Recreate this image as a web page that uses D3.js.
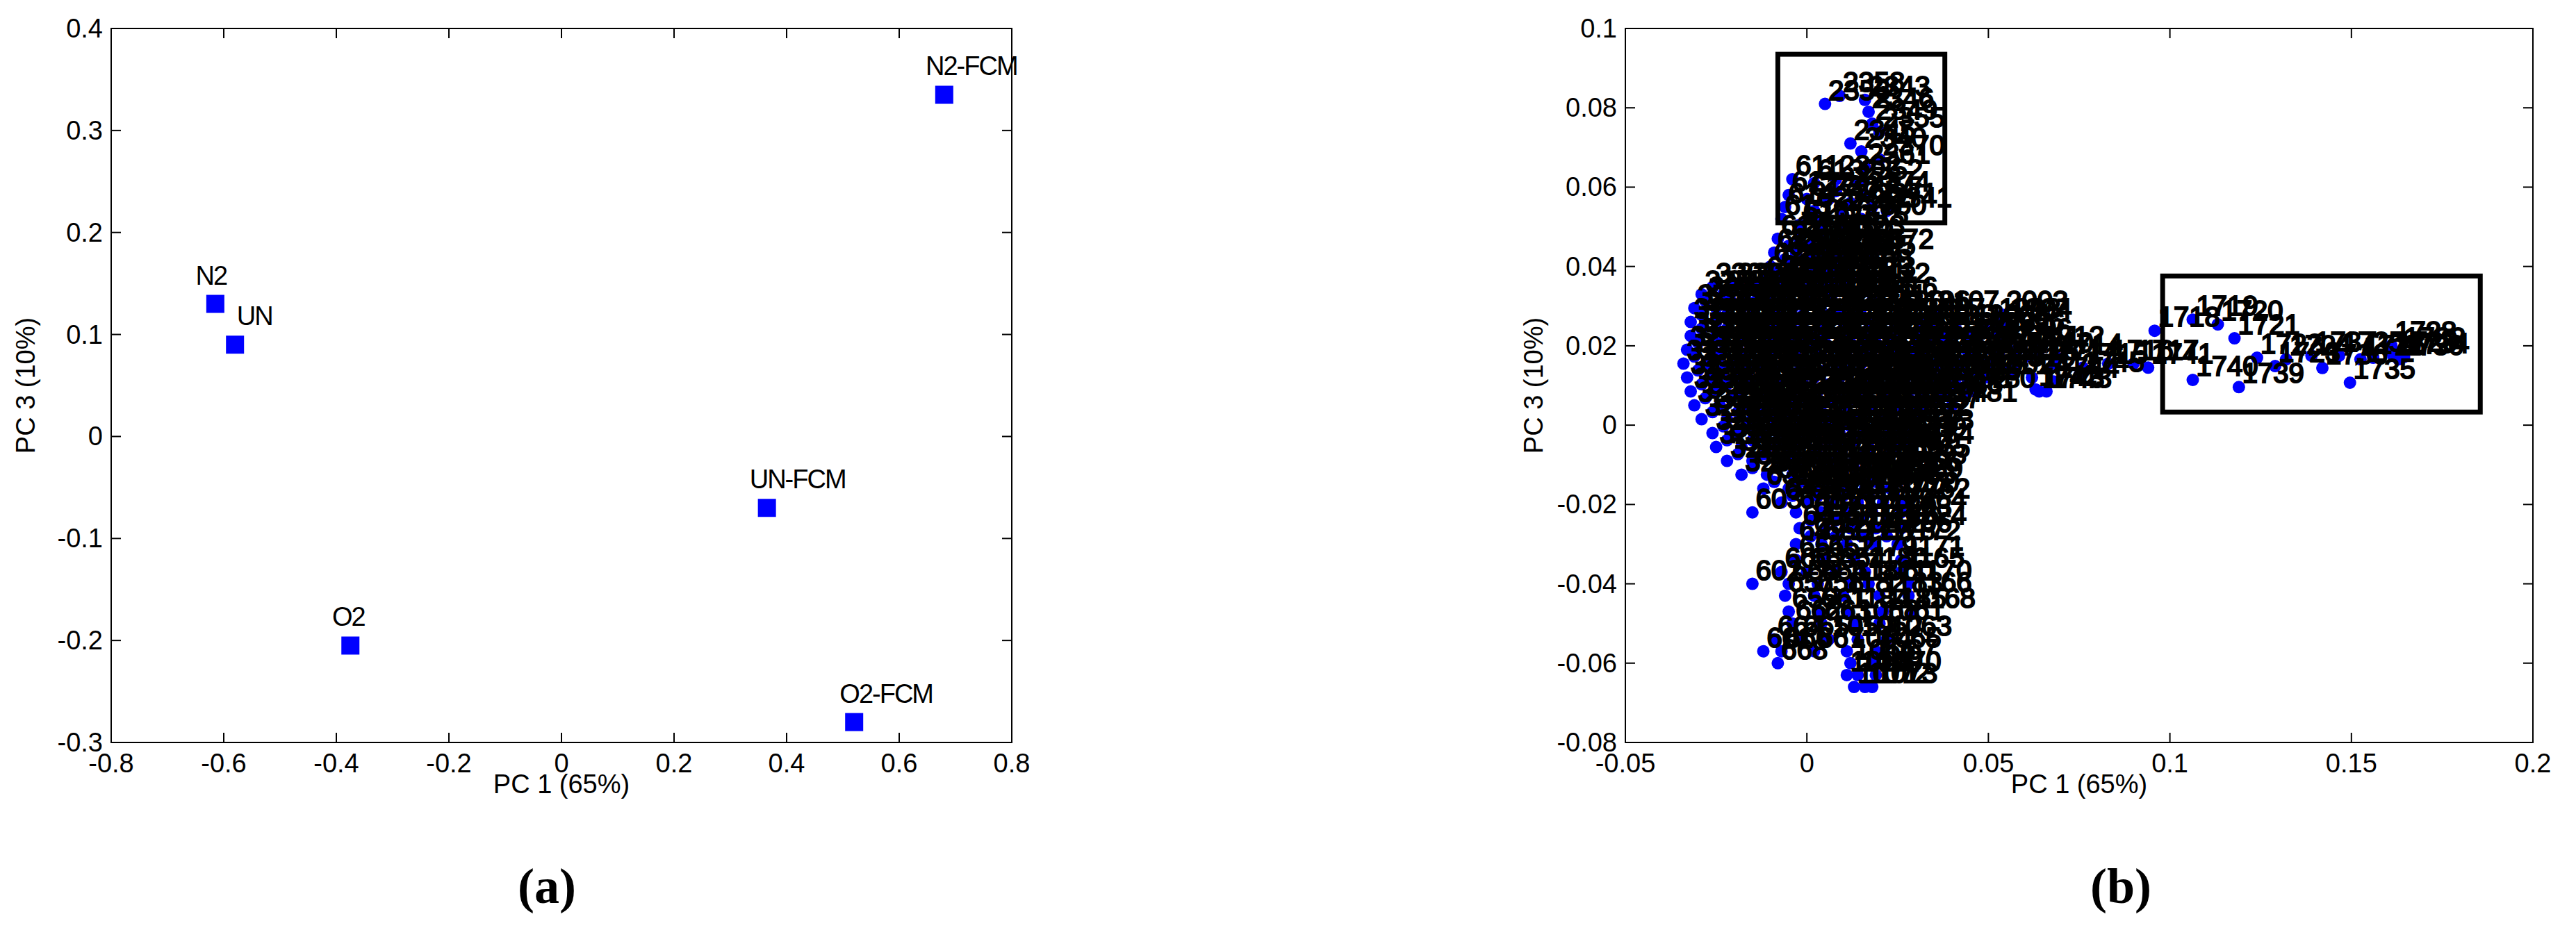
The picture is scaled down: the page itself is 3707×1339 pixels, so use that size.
<!DOCTYPE html>
<html><head><meta charset="utf-8">
<script src="https://cdn.jsdelivr.net/npm/d3@7"></script>
<style>body{margin:0;background:#fff}svg{display:block}</style>
</head><body>
<script>
// ---- Panel (a) data ----
const aNames = ["N2","UN","O2","UN-FCM","O2-FCM","N2-FCM"];
const aPC1 = [-0.615,-0.58,-0.375,0.365,0.52,0.68];
const aPC3 = [0.13,0.09,-0.205,-0.07,-0.28,0.335];
const aLabelDx = [-6,28,-3,44,46,39];
const aXTicks = [-0.8,-0.6,-0.4,-0.2,0,0.2,0.4,0.6,0.8];
const aYTicks = [-0.3,-0.2,-0.1,0,0.1,0.2,0.3,0.4];
// ---- Panel (b) data ----
const bXTicks = [-0.05,0,0.05,0.1,0.15,0.2];
const bYTicks = [-0.08,-0.06,-0.04,-0.02,0,0.02,0.04,0.06,0.08,0.1];
const bBoxes = [[-0.008,0.038,0.0935,0.051],[0.098,0.1855,0.0376,0.0033]];
const topCluster = [[0.005,0.081,"2356"],[0.009,0.083,"2358"],[0.016,0.082,"2343"],[0.017,0.079,"2346"],[0.018,0.076,"2349"],[0.02,0.074,"2355"],[0.012,0.071,"2345"],[0.015,0.069,"2340"],[0.02,0.067,"2370"],[0.016,0.065,"2361"],[-0.004,0.062,"611"],[0.002,0.061,"613"],[0.008,0.062,"2362"],[0.014,0.061,"2352"],[-0.005,0.058,"612"],[0.0,0.057,"617"],[0.006,0.057,"2363"],[0.012,0.056,"2364"],[0.018,0.055,"2371"],[0.022,0.054,"2341"],[-0.006,0.055,"614"],[0.002,0.054,"620"],[0.01,0.053,"2367"],[-0.007,0.052,"615"],[0.004,0.051,"2366"],[0.015,0.052,"2350"],[0.008,0.059,"2373"],[0.016,0.058,"2374"],[-0.002,0.0505,"616"],[0.01,0.0495,"2375"]];
const blobRows = [
 [0.047,[-0.008,-0.002,0.004,0.009],"618 2301 2302 2303"],
 [0.0435,[-0.009,-0.003,0.003,0.009,0.017],"619 2304 2305 2306 2372"],
 [0.040,[-0.010,-0.004,0.002,0.008],"621 2307 2308 2309"],
 [0.0365,[-0.012,-0.005,0.001,0.007,0.012],"622 2310 2311 2312 2313"],
 [0.033,[-0.029,-0.023,-0.017,-0.011,-0.005,0.001,0.007,0.012],"3255 3256 3257 623 2314 2315 2316 2317"],
 [0.0295,[-0.031,-0.025,-0.018,-0.011,-0.004,0.003,0.009,0.015],"3258 3259 3260 624 2318 2319 2320 2321"],
 [0.026,[-0.032,-0.025,-0.018,-0.011,-0.004,0.003,0.010,0.017,0.024,0.031,0.052,0.055],"3261 3262 3263 625 2322 2323 2324 2325 2086 2087 1993 1994"],
 [0.0225,[-0.032,-0.025,-0.018,-0.011,-0.004,0.003,0.010,0.017,0.024,0.031,0.038,0.045,0.053],"3264 3265 3266 626 2326 2327 2328 2329 2088 2089 2090 1995 1996"],
 [0.019,[-0.033,-0.026,-0.019,-0.012,-0.005,0.002,0.009,0.016,0.023,0.030,0.037,0.044,0.051,0.058,0.064],"3267 3268 3269 627 2330 2331 2332 2333 2091 2092 2093 1997 1998 1711 1712"],
 [0.0155,[-0.034,-0.027,-0.020,-0.013,-0.006,0.001,0.008,0.015,0.022,0.029,0.036,0.043,0.050,0.057,0.068],"3270 3271 3272 628 2334 2335 2336 2337 2094 2095 2096 1999 2000 1713 1714"],
 [0.012,[-0.033,-0.026,-0.019,-0.012,-0.005,0.002,0.009,0.016,0.023,0.030,0.037,0.044,0.050,0.062],"3273 3274 3275 629 2338 2339 2342 2344 2097 2098 2099 2001 2002 1742"],
 [0.0085,[-0.032,-0.025,-0.018,-0.011,-0.004,0.003,0.010,0.017,0.024,0.031,0.038,0.045,0.064],"3276 3277 3278 630 2347 2348 2351 2353 2100 2101 2102 1780 1743"],
 [0.005,[-0.031,-0.024,-0.017,-0.010,-0.003,0.004,0.011,0.018,0.025,0.032,0.040],"3279 3280 3281 631 2354 2357 2359 2360 2103 2104 1781"],
 [0.0015,[-0.029,-0.022,-0.015,-0.008,-0.001,0.006,0.013,0.020,0.027],"3282 3283 3284 632 2365 2368 2369 2105 1782"],
 [-0.002,[-0.026,-0.019,-0.012,-0.005,0.002,0.009,0.016,0.023,0.028],"3285 3286 3287 633 1150 1151 1152 1153 1783"],
 [-0.0055,[-0.025,-0.018,-0.011,-0.004,0.003,0.010,0.017,0.024,0.028],"3288 3289 3290 634 1154 1155 1156 1157 1784"],
 [-0.009,[-0.022,-0.015,-0.008,-0.001,0.006,0.013,0.020,0.027],"3291 3292 635 636 1158 1159 1160 1765"],
 [-0.0125,[-0.018,-0.011,-0.004,0.003,0.010,0.017,0.024],"3293 637 638 1161 1162 1163 1766"],
 [-0.016,[-0.012,-0.005,0.002,0.009,0.016,0.023],"639 640 641 1164 1167 1763"],
 [-0.0195,[-0.007,0.000,0.007,0.014,0.021,0.027],"642 643 644 1169 1172 1762"],
 [-0.022,[-0.015,-0.003,0.004,0.011,0.018,0.026],"603 645 646 1173 1174 1764"],
 [-0.026,[-0.002,0.005,0.012,0.019,0.026],"647 648 1175 1176 1724"],
 [-0.030,[-0.003,0.004,0.011,0.018,0.025],"649 650 1177 1178 1172"],
 [-0.034,[-0.003,0.005,0.013,0.026],"651 652 1179 1171"],
 [-0.037,[-0.007,0.000,0.008,0.016,0.026],"660 653 654 1180 1165"],
 [-0.040,[-0.015,-0.005,0.003,0.012,0.017,0.028],"602 655 656 1181 1060 1170"],
 [-0.043,[-0.006,0.002,0.010,0.020,0.028],"657 658 1182 1183 1166"],
 [-0.047,[-0.005,0.003,0.011,0.021,0.029],"659 661 1184 1185 1168"],
 [-0.050,[-0.004,0.004,0.013,0.020],"662 663 1058 1061"],
 [-0.054,[-0.009,-0.002,0.006,0.014,0.022],"664 665 1059 1062 1063"],
 [-0.057,[-0.012,-0.007,0.002,0.011,0.019],"601 666 667 1064 1065"],
 [-0.060,[-0.008,0.012,0.018],"668 1066 1067"],
 [-0.063,[0.011,0.014,0.019],"1068 1069 1070"],
 [-0.066,[0.013,0.016,0.018],"1071 1072 1073"]
];
const blobRows2 = [
 [0.0452,[-0.005,0.001,0.006],"670 2401 2402"],
 [0.0418,[-0.006,0.000,0.006,0.012],"671 2403 2404 2405"],
 [0.0383,[-0.008,-0.001,0.005,0.011],"672 2406 2407 2408"],
 [0.0348,[-0.026,-0.020,-0.014,-0.008,-0.002,0.004,0.010,0.016],"3301 3302 3303 673 2409 2410 2411 2412"],
 [0.0313,[-0.028,-0.021,-0.014,-0.007,0.000,0.006,0.012,0.018],"3304 3305 3306 674 2413 2414 2415 2416"],
 [0.0278,[-0.029,-0.022,-0.015,-0.008,-0.001,0.006,0.013,0.020,0.027,0.035,0.054],"3307 3308 3309 675 2417 2418 2419 2420 2106 2107 2003"],
 [0.0243,[-0.029,-0.022,-0.015,-0.008,-0.001,0.006,0.013,0.020,0.027,0.034,0.041,0.049],"3310 3311 3312 676 2421 2422 2423 2424 2108 2109 2110 2004"],
 [0.0208,[-0.030,-0.023,-0.016,-0.009,-0.002,0.005,0.012,0.019,0.026,0.033,0.040,0.047,0.055],"3313 3314 3315 677 2425 2426 2427 2428 2111 2112 2113 2005 2006"],
 [0.0173,[-0.031,-0.024,-0.017,-0.010,-0.003,0.004,0.011,0.018,0.025,0.032,0.039,0.046,0.053,0.061],"3316 3317 3318 678 2429 2430 2431 2432 2114 2115 2116 2007 2008 1710"],
 [0.0138,[-0.030,-0.023,-0.016,-0.009,-0.002,0.005,0.012,0.019,0.026,0.033,0.040,0.047,0.056],"3319 3320 3321 679 2433 2434 2435 2436 2117 2118 2119 2009 2010"],
 [0.0103,[-0.029,-0.022,-0.015,-0.008,-0.001,0.006,0.013,0.020,0.027,0.034,0.041],"3322 3323 3324 680 2437 2438 2439 2440 2120 2121 1785"],
 [0.0068,[-0.028,-0.021,-0.014,-0.007,0.000,0.007,0.014,0.021,0.028,0.036],"3325 3326 3327 681 2441 2442 2443 2444 2122 1786"],
 [0.0033,[-0.026,-0.019,-0.012,-0.005,0.002,0.009,0.016,0.023,0.030],"3328 3329 3330 682 2445 2446 2447 2123 1787"],
 [-0.0003,[-0.023,-0.016,-0.009,-0.002,0.005,0.012,0.019,0.025],"3331 3332 683 684 1186 1187 1188 1788"],
 [-0.0038,[-0.022,-0.015,-0.008,-0.001,0.006,0.013,0.020,0.026],"3333 3334 685 686 1189 1190 1191 1789"],
 [-0.0073,[-0.019,-0.012,-0.005,0.002,0.009,0.016,0.023],"3335 687 688 1192 1193 1194 1767"],
 [-0.0108,[-0.015,-0.008,-0.001,0.006,0.013,0.020,0.026],"689 690 691 1195 1196 1197 1768"],
 [-0.0143,[-0.009,-0.002,0.005,0.012,0.019,0.025],"692 693 694 1198 1199 1769"],
 [-0.0178,[-0.004,0.003,0.010,0.017,0.024],"695 696 1200 1201 1770"],
 [-0.024,[0.001,0.008,0.015,0.022],"697 698 1202 1203"],
 [-0.028,[0.001,0.008,0.015,0.022],"699 1204 1205 1206"]
];
const rayPts = [[0.069,0.017,"1714"],[0.076,0.0145,"1715"],[0.083,0.0155,"1716"],[0.090,0.0155,"1717"],[0.094,0.0145,"1741"],[0.075,0.0125,"1745"],[0.063,0.009,"1742"],[0.068,0.011,"1744"],[0.066,0.0085,"1743"]];
const rightPts = [[0.0958,0.0238,"1718"],[0.1063,0.0266,"1719"],[0.1132,0.0254,"1720"],[0.1178,0.0219,"1721"],[0.1063,0.0114,"1740"],[0.119,0.0096,"1739"],[0.124,0.017,"1722"],[0.129,0.0149,"1723"],[0.132,0.0166,"1724"],[0.139,0.0175,"1737"],[0.142,0.0144,"1736"],[0.1466,0.0175,"1725"],[0.1496,0.0107,"1735"],[0.1525,0.0166,"1726"],[0.156,0.017,"1727"],[0.161,0.0201,"1728"],[0.1615,0.0175,"1729"],[0.163,0.0166,"1730"],[0.1635,0.0185,"1732"],[0.1645,0.0172,"1734"]];

const W=3707,H=1339;
const svg=d3.select("body").append("svg").attr("width",W).attr("height",H).style("font-family","'Liberation Sans',Arial,sans-serif");
const plotTop=41,plotBottom=1069;

function frame(x,y,xt,yt,fmt){
  const g=svg.append("g");
  const [x0,x1]=x.range(),[y1,y0]=y.range();
  g.append("rect").attr("x",x0).attr("y",y0).attr("width",x1-x0).attr("height",y1-y0).attr("fill","none").attr("stroke","#000").attr("stroke-width",2);
  const tl=14;
  xt.forEach(v=>{const px=x(v);
    g.append("line").attr("x1",px).attr("x2",px).attr("y1",y1).attr("y2",y1-tl).attr("stroke","#000").attr("stroke-width",2);
    g.append("line").attr("x1",px).attr("x2",px).attr("y1",y0).attr("y2",y0+tl).attr("stroke","#000").attr("stroke-width",2);
    g.append("text").attr("x",px).attr("y",y1+43).attr("text-anchor","middle").attr("font-size",38).text(fmt(v));});
  yt.forEach(v=>{const py=y(v);
    g.append("line").attr("x1",x0).attr("x2",x0+tl).attr("y1",py).attr("y2",py).attr("stroke","#000").attr("stroke-width",2);
    g.append("line").attr("x1",x1).attr("x2",x1-tl).attr("y1",py).attr("y2",py).attr("stroke","#000").attr("stroke-width",2);
    g.append("text").attr("x",x0-12).attr("y",py+13).attr("text-anchor","end").attr("font-size",38).text(fmt(v));});
  return g;
}
const fmt=v=>{if(Math.abs(v)<1e-12)return "0";return String(+v.toFixed(4));};

// Panel a
const xa=d3.scaleLinear().domain([-0.8,0.8]).range([160,1456]);
const ya=d3.scaleLinear().domain([-0.3,0.4]).range([plotBottom,plotTop]);
frame(xa,ya,aXTicks,aYTicks,fmt);
aNames.forEach((n,i)=>{
  svg.append("rect").attr("x",xa(aPC1[i])-13).attr("y",ya(aPC3[i])-13).attr("width",26).attr("height",26).attr("fill","#0000ff");
  svg.append("text").attr("x",xa(aPC1[i])+aLabelDx[i]).attr("y",ya(aPC3[i])-28).attr("text-anchor","middle").attr("font-size",38).attr("letter-spacing",-2).text(n);
});
svg.append("text").attr("x",808).attr("y",1142).attr("text-anchor","middle").attr("font-size",38).text("PC 1 (65%)");
svg.append("text").attr("transform","translate(50,555) rotate(-90)").attr("text-anchor","middle").attr("font-size",38).text("PC 3 (10%)");
svg.append("text").attr("x",787).attr("y",1300).attr("text-anchor","middle").attr("font-size",72).attr("font-family","'Liberation Serif',serif").attr("font-weight","bold").text("(a)");

// Panel b
const xb=d3.scaleLinear().domain([-0.05,0.2]).range([2339,3645]);
const yb=d3.scaleLinear().domain([-0.08,0.1]).range([plotBottom,plotTop]);
frame(xb,yb,bXTicks,bYTicks,fmt);
let pts=[];
blobRows.concat(blobRows2).forEach(r=>{const labs=r[2].split(" ");r[1].forEach((x,i)=>pts.push([x,r[0],labs[i]||""]));});
pts=pts.concat(topCluster,rayPts,rightPts);
const gb=svg.append("g");
gb.selectAll("circle").data(pts).join("circle").attr("cx",d=>xb(d[0])).attr("cy",d=>yb(d[1])).attr("r",9).attr("fill","#0000ff");
gb.selectAll("text").data(pts).join("text").attr("x",d=>xb(d[0])+5).attr("y",d=>yb(d[1])-6).attr("font-size",40)
  .attr("stroke","#000").attr("stroke-width",2.2).text(d=>d[2]);
bBoxes.forEach(b=>svg.append("rect").attr("x",xb(b[0])).attr("y",yb(b[2])).attr("width",xb(b[1])-xb(b[0])).attr("height",yb(b[3])-yb(b[2])).attr("fill","none").attr("stroke","#000").attr("stroke-width",7));
svg.append("text").attr("x",2992).attr("y",1142).attr("text-anchor","middle").attr("font-size",38).text("PC 1 (65%)");
svg.append("text").attr("transform","translate(2220,555) rotate(-90)").attr("text-anchor","middle").attr("font-size",38).text("PC 3 (10%)");
svg.append("text").attr("x",3052).attr("y",1300).attr("text-anchor","middle").attr("font-size",72).attr("font-family","'Liberation Serif',serif").attr("font-weight","bold").text("(b)");
</script>
</body></html>
